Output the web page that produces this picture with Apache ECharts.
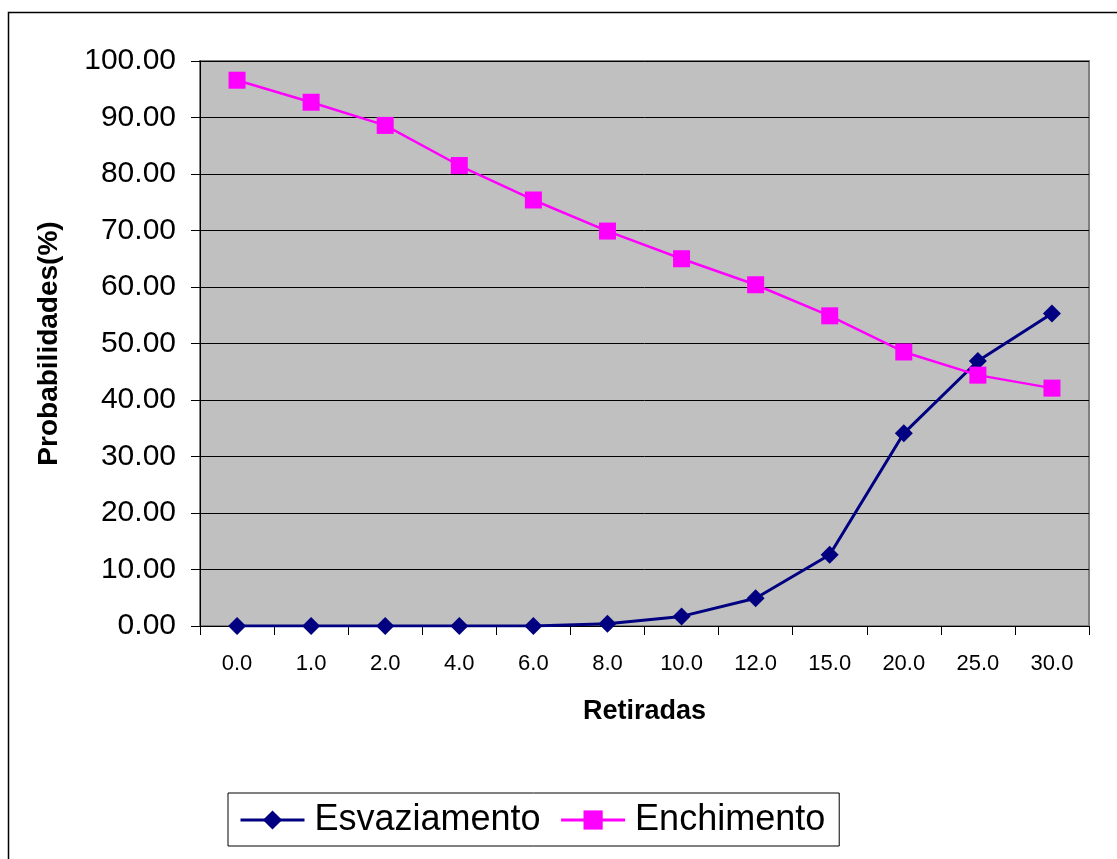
<!DOCTYPE html>
<html>
<head>
<meta charset="utf-8">
<script src="https://cdn.jsdelivr.net/npm/echarts@6/dist/echarts.min.js"></script>
<style>
  html, body { margin: 0; padding: 0; background: #fff; }
  #chart { width: 1117px; height: 859px; }
</style>
</head>
<body>
<div id="chart"></div>
<script>
// Retiradas (categories on the x axis)
const retiradas = ['0.0', '1.0', '2.0', '4.0', '6.0', '8.0', '10.0', '12.0', '15.0', '20.0', '25.0', '30.0'];
// Probability of emptying (%)
const esvaziamento = [0, 0, 0, 0, 0, 0.4, 1.7, 4.9, 12.6, 34.1, 46.9, 55.3];
// Probability of filling (%)
const enchimento = [96.6, 92.7, 88.6, 81.5, 75.4, 69.9, 65.0, 60.4, 54.9, 48.5, 44.4, 42.1];
// Y axis settings
const yMin = 0, yMax = 100, yStep = 10;

const FONT = 'Arial, "Liberation Sans", sans-serif';
const chart = echarts.init(document.getElementById('chart'));

chart.setOption({
  animation: false,
  backgroundColor: '#ffffff',
  textStyle: { fontFamily: FONT, color: '#000' },
  graphic: [{
    type: 'rect',
    shape: { x: 8.5, y: 12.5, width: 1130, height: 870 },
    style: { fill: 'none', stroke: '#000', lineWidth: 1.5 },
    silent: true
  }],
  grid: {
    left: 200, right: 28, top: 61, bottom: 233,
    show: true,
    backgroundColor: '#c0c0c0',
    borderColor: '#808080',
    borderWidth: 2
  },
  legend: {
    left: 228, top: 793,
    orient: 'horizontal',
    backgroundColor: '#fff',
    borderColor: '#000',
    borderWidth: 1,
    padding: [9, 14, 8, 11],
    itemGap: 19,
    itemWidth: 64,
    itemHeight: 24,
    lineStyle: { width: 3 },
    textStyle: { fontFamily: FONT, fontSize: 36, color: '#000', padding: [0, 0, 0, 5] },
    data: ['Esvaziamento', 'Enchimento']
  },
  xAxis: {
    type: 'category',
    data: retiradas,
    boundaryGap: true,
    name: 'Retiradas',
    nameLocation: 'middle',
    nameGap: 72,
    nameTextStyle: { fontFamily: FONT, fontSize: 27, fontWeight: 'bold', color: '#000' },
    axisLine: { lineStyle: { color: '#000', width: 1 } },
    axisTick: { show: true, inside: false, length: 9, lineStyle: { color: '#000' } },
    axisLabel: { fontFamily: FONT, fontSize: 22, color: '#000', margin: 27 },
    splitLine: { show: false }
  },
  yAxis: {
    type: 'value',
    min: yMin, max: yMax, interval: yStep,
    name: 'Probabilidades(%)',
    nameLocation: 'middle',
    nameGap: 137,
    nameRotate: 90,
    nameTextStyle: { fontFamily: FONT, fontSize: 28, fontWeight: 'bold', color: '#000' },
    axisLine: { show: true, lineStyle: { color: '#000', width: 1 } },
    axisTick: { show: true, inside: false, length: 9, lineStyle: { color: '#000' } },
    axisLabel: { fontFamily: FONT, fontSize: 30, color: '#000', margin: 24,
      formatter: v => v.toFixed(2) },
    splitLine: { show: true, lineStyle: { color: '#000', width: 1 } }
  },
  series: [
    {
      name: 'Esvaziamento',
      type: 'line',
      data: esvaziamento,
      symbol: 'diamond',
      symbolSize: [18, 18],
      itemStyle: { color: '#000080' },
      lineStyle: { color: '#000080', width: 3 },
      z: 3
    },
    {
      name: 'Enchimento',
      type: 'line',
      data: enchimento,
      symbol: 'rect',
      symbolSize: [17, 17],
      itemStyle: { color: '#ff00ff' },
      lineStyle: { color: '#ff00ff', width: 2.5 },
      z: 4
    }
  ]
});
</script>
</body>
</html>
